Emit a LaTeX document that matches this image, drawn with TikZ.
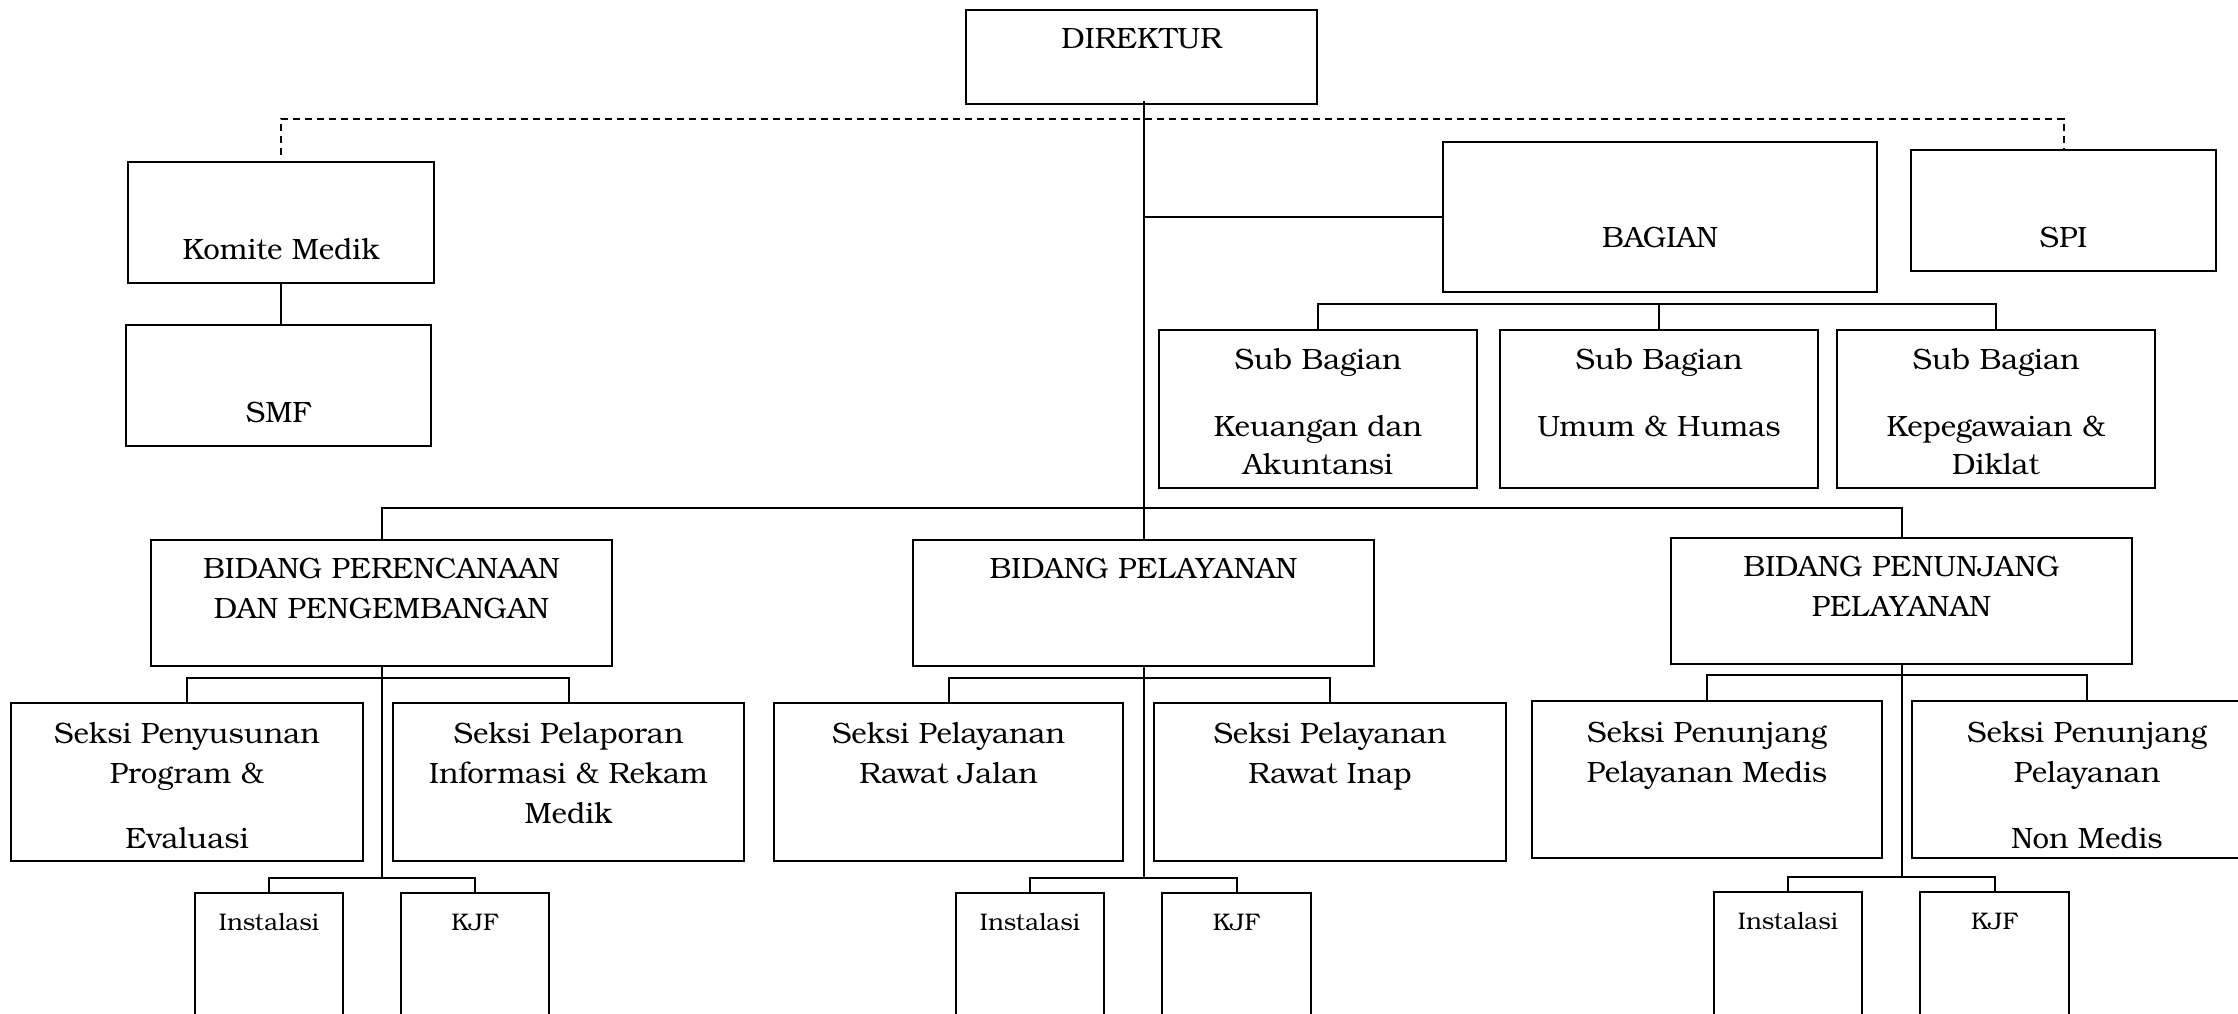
\documentclass[tikz,border=0pt]{standalone}
\usepackage{fontspec}
\setmainfont{texgyrebonum}[Extension=.otf, UprightFont=*-regular, BoldFont=*-bold]
\tikzset{
  orgbox/.style={draw, line width=2.2pt, rectangle, inner sep=0pt, outer sep=0pt, anchor=north west},
  conn/.style={line width=2pt},
  dashconn/.style={line width=2pt, dash pattern=on 7pt off 5pt},
}
\newcommand{\obtext}[4]{\parbox[c][#2pt][t]{#1pt}{\centering\fontsize{29.4}{40}\selectfont\rule{0pt}{#3pt}#4}}
\newcommand{\obsmall}[4]{\parbox[c][#2pt][t]{#1pt}{\centering\fontsize{24}{30}\selectfont\rule{0pt}{#3pt}#4}}
\begin{document}
\begin{tikzpicture}[x=1pt,y=-1pt]
\useasboundingbox (0,0) rectangle (2238,1014);
% top level
\node[orgbox] (dir) at (966,10) {\obtext{351}{94}{39}{DIREKTUR}};
\node[orgbox] (komite) at (128,162) {\obtext{306}{121}{97}{Komite Medik}};
\node[orgbox] (smf) at (126,325) {\obtext{305}{121}{97}{SMF}};
\node[orgbox] (bagian) at (1443,142) {\obtext{434}{150}{105}{BAGIAN}};
\node[orgbox] (spi) at (1911,150) {\obtext{305}{121}{97}{SPI}};
% sub bagian
\node[orgbox] (sub1) at (1159,330) {\obtext{318}{158}{39}{Sub Bagian\\[27pt]Keuangan dan\\[-2pt]Akuntansi}};
\node[orgbox] (sub2) at (1500,330) {\obtext{318}{158}{39}{Sub Bagian\\[27pt]Umum \& Humas}};
\node[orgbox] (sub3) at (1837,330) {\obtext{318}{158}{39}{Sub Bagian\\[27pt]Kepegawaian \&\\[-2pt]Diklat}};
% bidang
\node[orgbox] (bp) at (151,540) {\obtext{461}{126}{38}{BIDANG PERENCANAAN\\DAN PENGEMBANGAN}};
\node[orgbox] (bl) at (913,540) {\obtext{461}{126}{38}{BIDANG PELAYANAN}};
\node[orgbox] (bj) at (1671,538) {\obtext{461}{126}{38}{BIDANG PENUNJANG\\PELAYANAN}};
% seksi
\node[orgbox] (s1) at (11,703) {\obtext{352}{158}{40}{Seksi Penyusunan\\Program \&\\[25pt]Evaluasi}};
\node[orgbox] (s2) at (393,703) {\obtext{351}{158}{40}{Seksi Pelaporan\\Informasi \& Rekam\\Medik}};
\node[orgbox] (s3) at (774,703) {\obtext{349}{158}{40}{Seksi Pelayanan\\Rawat Jalan}};
\node[orgbox] (s4) at (1154,703) {\obtext{352}{158}{40}{Seksi Pelayanan\\Rawat Inap}};
\node[orgbox] (s5) at (1532,701) {\obtext{350}{157}{41}{Seksi Penunjang\\Pelayanan Medis}};
\node[orgbox] (s6) at (1912,701) {\obtext{350}{157}{41}{Seksi Penunjang\\Pelayanan\\[26pt]Non Medis}};
% instalasi / KJF
\node[orgbox] (i1) at (195,893) {\obsmall{148}{140}{37}{Instalasi}};
\node[orgbox] (k1) at (401,893) {\obsmall{148}{140}{37}{KJF}};
\node[orgbox] (i2) at (956,893) {\obsmall{148}{140}{37}{Instalasi}};
\node[orgbox] (k2) at (1162,893) {\obsmall{149}{140}{37}{KJF}};
\node[orgbox] (i3) at (1714,892) {\obsmall{148}{140}{37}{Instalasi}};
\node[orgbox] (k3) at (1920,892) {\obsmall{149}{140}{37}{KJF}};
% helper levels
\coordinate (dl) at (0,119);
\coordinate (bagbus) at (0,304);
\coordinate (topbus) at (0,508);
\coordinate (sbus) at (0,678);
\coordinate (ibus) at (0,878);
\coordinate (sbusR) at (0,675);
\coordinate (ibusR) at (0,877);
% connectors
\draw[dashconn] ([yshift=7pt]komite.north) -- (komite.north |- dl) -- (spi.north |- dl) -- ([yshift=1pt]spi.north);
\draw[conn] (komite.south) -- (komite.south |- smf.north);
\draw[conn] ([yshift=3pt]bl.north |- dir.south) -- (bl.north);
\draw[conn] (bagian.west) -- (bagian.west -| bl.north);
\draw[conn] (sub1.north) -- (sub1.north |- bagbus) -- (sub3.north |- bagbus) -- (sub3.north);
\draw[conn] (sub2.north) -- (sub2.north |- bagbus);
\draw[conn] (bp.north) -- (bp.north |- topbus) -- (bj.north |- topbus) -- (bj.north);
% bidang perencanaan
\draw[conn] (bp.south) -- (bp.south |- ibus);
\draw[conn] (s1.north) -- (s1.north |- sbus) -- (s2.north |- sbus) -- (s2.north);
\draw[conn] (i1.north) -- (i1.north |- ibus) -- (k1.north |- ibus) -- (k1.north);
% bidang pelayanan
\draw[conn] (bl.south) -- (bl.south |- ibus);
\draw[conn] (s3.north) -- (s3.north |- sbus) -- (s4.north |- sbus) -- (s4.north);
\draw[conn] (i2.north) -- (i2.north |- ibus) -- (k2.north |- ibus) -- (k2.north);
% bidang penunjang
\draw[conn] (bj.south) -- (bj.south |- ibusR);
\draw[conn] (s5.north) -- (s5.north |- sbusR) -- (s6.north |- sbusR) -- (s6.north);
\draw[conn] (i3.north) -- (i3.north |- ibusR) -- (k3.north |- ibusR) -- (k3.north);
\end{tikzpicture}
\end{document}
